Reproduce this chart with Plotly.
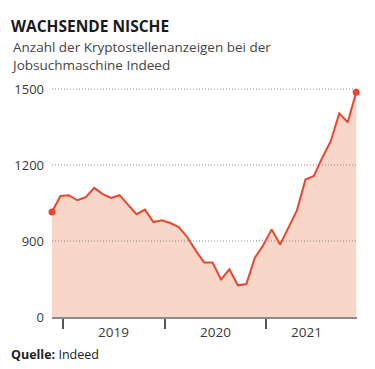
import plotly.graph_objects as go

months = ["2018-11", "2018-12", "2019-01", "2019-02", "2019-03", "2019-04", "2019-05", "2019-06",
          "2019-07", "2019-08", "2019-09", "2019-10", "2019-11", "2019-12", "2020-01", "2020-02",
          "2020-03", "2020-04", "2020-05", "2020-06", "2020-07", "2020-08", "2020-09", "2020-10",
          "2020-11", "2020-12", "2021-01", "2021-02", "2021-03", "2021-04", "2021-05", "2021-06",
          "2021-07", "2021-08", "2021-09", "2021-10", "2021-11"]
anzeigen = [1015, 1078, 1081, 1061, 1073, 1110, 1085, 1070, 1081, 1045, 1006, 1024, 975, 982,
            971, 955, 916, 863, 815, 815, 748, 788, 725, 730, 833, 883, 946, 886, 955, 1022,
            1143, 1157, 1230, 1295, 1404, 1369, 1487]
y_tick_vals = [600, 900, 1200, 1500]
y_tick_text = ["0", "900", "1200", "1500"]
grid_vals = [900, 1200, 1500]
years = ["2019", "2020", "2021"]

x = list(range(len(months)))
jan_idx = [i for i, m in enumerate(months) if m.endswith("-01")]
tick_x = [i - 0.65 for i in jan_idx]
year_label_x = [7.3, 19.4, 30.1]

# page body has an 8px default margin; compensate so the chart lands at window coords
OFF = 8
W, H = 375 - OFF, 369 - OFF
ML, MR, MT, MB = 52 - OFF, 18, 84 - OFF, 52
plot_h = H - MT - MB

def py(ypx):
    return (H - MB - (ypx - OFF)) / plot_h

def px(xpx):
    return ((xpx - OFF) - ML) / (W - ML - MR)

RED = "#e8472f"
FILL = "#f8d6c8"
TXT = "#3a3a3a"
FONT = "Open Sans"

fig = go.Figure()
fig.add_trace(go.Scatter(x=x, y=anzeigen, mode="lines", fill="tozeroy",
                         fillcolor=FILL, line=dict(color=RED, width=2), hoverinfo="skip"))
fig.add_trace(go.Scatter(x=[x[0], x[-1]], y=[anzeigen[0], anzeigen[-1]], mode="markers",
                         marker=dict(color=RED, size=7), cliponaxis=False, hoverinfo="skip"))

shapes = []
for v in grid_vals:
    shapes.append(dict(type="line", xref="paper", yref="y", x0=0, x1=1, y0=v, y1=v,
                       line=dict(color="#8a8a8a", width=1, dash="1px,2px"), layer="above"))
fig.update_layout(shapes=shapes)

annotations = [
    dict(text="<b>WACHSENDE NISCHE</b>", x=px(9), y=py(26), xref="paper", yref="paper",
         xanchor="left", yanchor="middle", showarrow=False,
         font=dict(family=FONT, size=15.5, color="#1a1a1a", weight=800)),
    dict(text="Anzahl der Kryptostellenanzeigen bei der<br>Jobsuchmaschine Indeed", x=px(9),
         y=py(56), xref="paper", yref="paper", xanchor="left", yanchor="middle",
         showarrow=False, align="left",
         font=dict(family=FONT, size=13.5, color="#444444")),
    dict(text="<b>Quelle:</b> Indeed", x=px(9), y=py(354), xref="paper", yref="paper",
         xanchor="left", yanchor="middle", showarrow=False,
         font=dict(family=FONT, size=12.5, color="#222222")),
]
for lab, lx in zip(years, year_label_x):
    annotations.append(dict(text=lab, x=lx, y=py(332), xref="x", yref="paper",
                            xanchor="center", yanchor="middle", showarrow=False,
                            font=dict(family=FONT, size=13.5, color=TXT)))
fig.update_layout(annotations=annotations)

fig.update_layout(
    width=W, height=H, margin=dict(l=ML, r=MR, t=MT, b=MB, autoexpand=False),
    paper_bgcolor="white", plot_bgcolor="white", showlegend=False,
    xaxis=dict(range=[0, 36.1], showgrid=False, zeroline=False, showline=True,
               automargin=False,
               linecolor="#8a8a8a", linewidth=1.5, tickmode="array", tickvals=tick_x,
               ticktext=["" for _ in tick_x], ticks="outside", ticklen=10,
               tickcolor="#555555", tickwidth=1.5),
    yaxis=dict(range=[600, 1520], showgrid=False, zeroline=False, showline=False,
               automargin=False,
               tickmode="array", tickvals=y_tick_vals, ticktext=y_tick_text, ticks="",
               ticklabelstandoff=7, tickfont=dict(family=FONT, size=13, color=TXT)),
)

fig.write_html("out.html")
